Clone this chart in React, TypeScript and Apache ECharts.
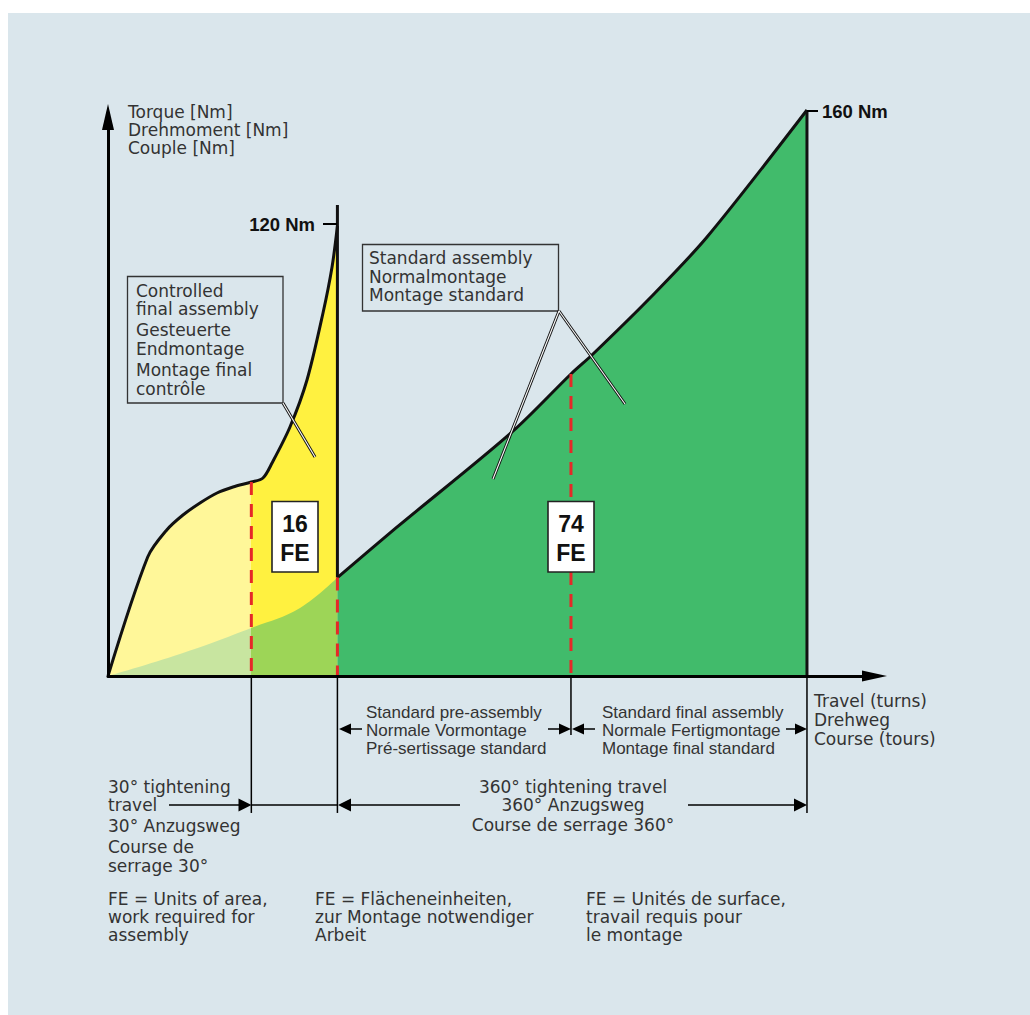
import React, { useEffect, useRef } from "react";
import * as echarts from "echarts";

// ---- data (travel in arbitrary units 0..100, torque in arbitrary units 0..100) ----
const yellowX = [0, 5.18, 7.66, 9.78, 12.0, 14.22, 16.31, 18.7, 20.22, 21.4, 23.74, 25.96, 28.05, 29.23, 29.93];
const yellowY = [0, 21.29, 26.12, 28.8, 30.95, 32.74, 33.81, 34.7, 35.42, 38.1, 44.54, 52.95, 64.94, 73.17, 80.5];
const lowX = [0, 9.39, 18.7, 25.05, 29.93];
const lowY = [0, 3.94, 8.59, 12.16, 17.6];
const greenX = [29.93, 37.57, 52.71, 60.4, 63.14, 70.71, 78.15, 91.19];
const greenY = [17.6, 26.48, 43.65, 54.03, 57.42, 67.62, 78.53, 101.25];
const yellowEdgeTop = 84.26;
const tickLong = -24.5;
const tickShort = -10.55;
const splitIndex = 7; // 30° start on the controlled curve
const finalIndex = 3; // standard final-assembly start on the green curve

// ---- texts ----
const torqueLines = ["Torque [Nm]", "Drehmoment [Nm]", "Couple [Nm]"];
const travelLines = ["Travel (turns)", "Drehweg", "Course (tours)"];
const controlledLines = ["Controlled", "final assembly", "Gesteuerte", "Endmontage", "Montage final", "contrôle"];
const standardLines = ["Standard assembly", "Normalmontage", "Montage standard"];
const preLines = ["Standard pre-assembly", "Normale Vormontage", "Pré-sertissage standard"];
const finalLines = ["Standard final assembly", "Normale Fertigmontage", "Montage final standard"];
const t30Lines = ["30° tightening", "travel", "30° Anzugsweg", "Course de", "serrage 30°"];
const t360Lines = ["360° tightening travel", "360° Anzugsweg", "Course de serrage 360°"];
const feEn = ["FE = Units of area,", "work required for", "assembly"];
const feDe = ["FE = Flächeneinheiten,", "zur Montage notwendiger", "Arbeit"];
const feFr = ["FE = Unités de surface,", "travail requis pour", "le montage"];
const peakLabels = ["120 Nm", "160 Nm"];
const feValues = ["16", "74"];

const TXT = "#333333";
const REG = '"DejaVu Sans", sans-serif';
const NAR = '"Liberation Sans", Arial, sans-serif';

const zip = (xs: number[], ys: number[]) => xs.map((x, i) => [x, ys[i]]);

function text(x: number, y: number, s: string, o: any = {}) {
  return {
    type: "text",
    x,
    y,
    z: 100,
    silent: true,
    style: {
      text: s,
      fill: o.fill || TXT,
      fontSize: o.size || 17,
      fontFamily: o.family || REG,
      fontWeight: o.weight || "normal",
      textAlign: o.align || "left",
      textVerticalAlign: "middle",
    },
  };
}
function line(x1: number, y1: number, x2: number, y2: number, w = 1.5, c = "#000", z = 100) {
  return { type: "line", z, silent: true, shape: { x1, y1, x2, y2 }, style: { stroke: c, lineWidth: w } };
}
function head(tipX: number, y: number, dir: number, len = 12, half = 6) {
  return {
    type: "polygon",
    z: 100,
    silent: true,
    shape: { points: [[tipX, y], [tipX - dir * len, y - half], [tipX - dir * len, y + half]] },
    style: { fill: "#000" },
  };
}
function rect(x: number, y: number, w: number, h: number, fill: string, stroke: string, lw = 1.3) {
  return { type: "rect", z: 100, silent: true, shape: { x, y, width: w, height: h }, style: { fill, stroke, lineWidth: lw } };
}
function leader(x1: number, y1: number, x2: number, y2: number) {
  return [line(x1, y1, x2, y2, 3, "#111", 100), line(x1, y1, x2, y2, 1.1, "#fff", 101)];
}

function buildGraphics() {
  const g: any[] = [];
  g.push({ type: "rect", z: 100, silent: true, shape: { x: 0, y: 0, width: 1030, height: 13 }, style: { fill: "#fff" } });
  g.push({ type: "rect", z: 100, silent: true, shape: { x: 0, y: 0, width: 8, height: 1015 }, style: { fill: "#fff" } });

  [112, 130, 148].forEach((y, i) => g.push(text(128, y, torqueLines[i])));
  [701, 720, 739].forEach((y, i) => g.push(text(814, y, travelLines[i])));

  g.push(text(315, 224, peakLabels[0], { family: NAR, weight: "bold", size: 18.5, fill: "#111", align: "right" }));
  g.push(line(323, 224, 337, 224, 2));
  g.push(text(822, 111, peakLabels[1], { family: NAR, weight: "bold", size: 18.5, fill: "#111" }));
  g.push(line(807, 111, 818, 111, 2));

  g.push(rect(127.5, 276.5, 155.5, 126.5, "none", "#333"));
  [291, 309, 330, 349, 370, 389].forEach((y, i) => g.push(text(136, y, controlledLines[i])));
  g.push(...leader(283, 403, 315, 457));

  g.push(rect(362.5, 244.5, 196, 66.5, "none", "#333"));
  [258, 277, 295].forEach((y, i) => g.push(text(369, y, standardLines[i])));
  g.push(...leader(559, 311, 493, 479));
  g.push(...leader(559, 311, 625, 404));

  [295, 571].forEach((cx, i) => {
    g.push(rect(cx - 23, 501.5, 46, 70.5, "#fff", "#222", 1.6));
    g.push(text(cx, 524, feValues[i], { family: NAR, weight: "bold", size: 23, fill: "#111", align: "center" }));
    g.push(text(cx, 553, "FE", { family: NAR, weight: "bold", size: 23, fill: "#111", align: "center" }));
  });

  // row 1 arrows
  g.push(head(339, 729, -1, 12, 5.5), line(350, 729, 362, 729));
  g.push(head(571, 729, 1, 12, 5.5), line(548, 729, 560, 729));
  g.push(head(572, 729, -1, 12, 5.5), line(583, 729, 595, 729));
  g.push(head(807, 729, 1, 12, 5.5), line(786, 729, 796, 729));
  [712, 730, 748].forEach((y, i) => {
    g.push(text(366, y, preLines[i], { family: NAR }));
    g.push(text(602, y, finalLines[i], { family: NAR }));
  });

  // row 2 arrows
  [787, 805, 826, 847, 866].forEach((y, i) => g.push(text(108, y, t30Lines[i])));
  g.push(line(169, 805, 240, 805), head(251.5, 805, 1, 13, 6.5));
  g.push(line(251.5, 805, 337.5, 805));
  g.push(head(338, 805, -1, 13, 6.5), line(350, 805, 460, 805));
  [787, 805, 825].forEach((y, i) => g.push(text(573, y, t360Lines[i], { align: "center" })));
  g.push(line(688, 805, 796, 805), head(807, 805, 1, 13, 6.5));

  [899, 917, 935].forEach((y, i) => {
    g.push(text(108, y, feEn[i]));
    g.push(text(315, y, feDe[i]));
    g.push(text(586, y, feFr[i]));
  });
  return g;
}

function buildOption() {
  const base = { type: "line", symbol: "none", showSymbol: false, clip: false, silent: true, animation: false };
  const ySplit = yellowX[splitIndex] / yellowX[yellowX.length - 1];
  const lSplit = lowX[2] / lowX[lowX.length - 1];
  const hard = (a: string, b: string, s: number) =>
    new echarts.graphic.LinearGradient(0, 0, 1, 0, [
      { offset: 0, color: a },
      { offset: s, color: a },
      { offset: s, color: b },
      { offset: 1, color: b },
    ]);

  const dashes = [
    [yellowX[splitIndex], yellowY[splitIndex]],
    [greenX[0], greenY[0]],
    [greenX[finalIndex], greenY[finalIndex]],
  ];
  const ticks = [
    [yellowX[splitIndex], tickLong],
    [greenX[0], tickLong],
    [greenX[finalIndex], tickShort],
    [greenX[greenX.length - 1], tickLong],
  ];

  const series: any[] = [
    {
      ...base,
      name: "controlled",
      z: 2,
      data: zip(yellowX, yellowY),
      smooth: 0.3,
      lineStyle: { color: "#111", width: 3, join: "round" },
      areaStyle: { color: hard("#fff799", "#fff140", ySplit), opacity: 1 },
    },
    {
      ...base,
      name: "preassembly",
      z: 3,
      data: zip(lowX, lowY),
      smooth: 0.4,
      lineStyle: { width: 0, opacity: 0 },
      areaStyle: { color: hard("#c8e5a0", "#9dd557", lSplit), opacity: 1 },
    },
    {
      ...base,
      name: "standard",
      z: 4,
      data: zip(greenX, greenY),
      smooth: 0.3,
      lineStyle: { color: "#111", width: 3, join: "round" },
      areaStyle: { color: "#41bb6b", opacity: 1 },
    },
    {
      ...base,
      name: "edge30",
      z: 5,
      data: [[greenX[0], yellowEdgeTop], [greenX[0], greenY[0]]],
      lineStyle: { color: "#111", width: 3 },
    },
    {
      ...base,
      name: "edge360",
      z: 5,
      data: [[greenX[greenX.length - 1], greenY[greenY.length - 1]], [greenX[greenX.length - 1], 0]],
      lineStyle: { color: "#111", width: 3 },
    },
  ];
  dashes.forEach((d, i) =>
    series.push({
      ...base,
      name: "dash" + i,
      z: 6,
      data: [[d[0], d[1]], [d[0], 0]],
      lineStyle: { color: "#e62828", width: 3, type: [13, 9] },
    })
  );
  ticks.forEach((t, i) =>
    series.push({
      ...base,
      name: "tick" + i,
      z: 6,
      data: [[t[0], 0], [t[0], t[1]]],
      lineStyle: { color: "#000", width: 1.5 },
    })
  );

  const axisCommon = {
    type: "value",
    min: 0,
    max: 100,
    z: 10,
    axisTick: { show: false },
    axisLabel: { show: false },
    splitLine: { show: false },
  };

  return {
    animation: false,
    backgroundColor: "#dae6ec",
    grid: { left: 108, right: 155.5, top: 117, bottom: 339, containLabel: false },
    xAxis: {
      ...axisCommon,
      axisLine: { show: true, symbol: ["none", "triangle"], symbolSize: [11, 25], lineStyle: { color: "#000", width: 3 } },
    },
    yAxis: {
      ...axisCommon,
      axisLine: { show: true, symbol: ["none", "triangle"], symbolSize: [12, 26], lineStyle: { color: "#000", width: 3 } },
    },
    series,
    graphic: { elements: buildGraphics() },
  };
}

export default function App() {
  const ref = useRef<HTMLDivElement>(null);
  useEffect(() => {
    if (!ref.current) return;
    const chart = echarts.init(ref.current, undefined, { renderer: "svg" });
    chart.setOption(buildOption() as any);
    return () => chart.dispose();
  }, []);
  return <div ref={ref} style={{ position: "fixed", left: 0, top: 0, width: 1030, height: 1015 }} />;
}
